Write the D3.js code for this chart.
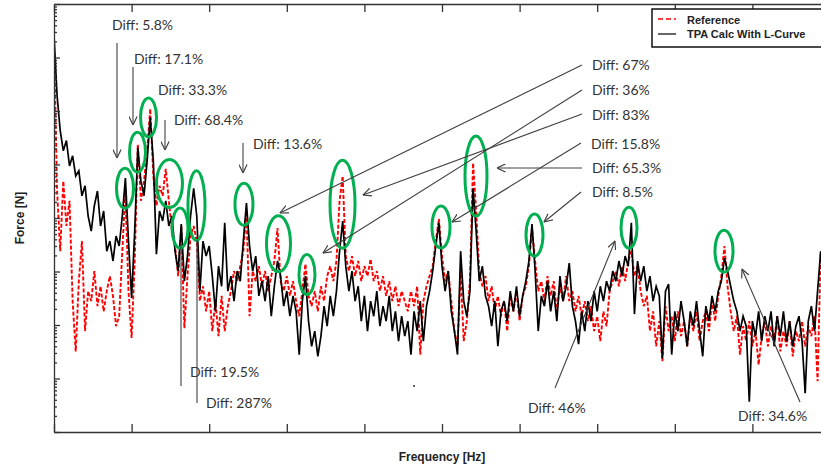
<!DOCTYPE html>
<html>
<head>
<meta charset="utf-8">
<script src="https://cdn.jsdelivr.net/npm/d3@7"></script>
<style>
  body { margin: 0; background: #fff; }
  svg { display: block; }
  .axis path, .axis line { stroke: #333; stroke-width: 1.3; }
</style>
</head>
<body>
<div id="chart"></div>
<script>
// spectrum bins: 4 Hz apart, starting at 0 Hz
var freqStep = 4;

// TPA calculation with L-curve regularisation [N]
var tpaForce = [
  2560, 193, 43, 18, 28, 9.4, 14.5, 6.1, 7.6, 2.6,
  4.0, 1.09, 0.57, 1.7, 3.2, 0.71, 1.35, 0.24, 0.37, 0.157,
  0.46, 0.30, 1.09, 5.6, 0.37, 0.032, 0.57, 20.5, 4.9, 2.6,
  11.7, 75, 11.7, 0.21, 1.35, 0.88, 2.1, 0.71, 1.09, 0.24,
  0.102, 0.77, 0.066, 0.194, 1.09, 3.6, 1.09, 0.043, 0.37, 0.194,
  0.30, 0.082, 0.018, 0.126, 0.053, 0.81, 0.043, 0.082, 0.028, 0.102,
  0.066, 0.37, 1.9, 0.30, 0.102, 0.194, 0.035, 0.066, 0.028, 0.082,
  0.0146, 0.053, 0.157, 0.082, 0.0225, 0.043, 0.0146, 0.035, 0.018, 0.0028,
  0.028, 0.082, 0.0118, 0.0040, 0.0077, 0.0026, 0.0062, 0.0225, 0.0095, 0.035,
  0.0146, 0.043, 0.24, 0.88, 0.126, 0.043, 0.102, 0.028, 0.053, 0.0118,
  0.035, 0.0077, 0.028, 0.0146, 0.043, 0.0095, 0.0225, 0.0118, 0.035, 0.0077,
  0.018, 0.0050, 0.0146, 0.0062, 0.0118, 0.0028, 0.018, 0.0077, 0.028, 0.0050,
  0.0225, 0.043, 0.102, 0.30, 0.81, 0.126, 0.043, 0.102, 0.018, 0.0077,
  0.0028, 0.24, 0.028, 0.0146, 0.043, 3.6, 0.57, 0.066, 0.126, 0.035,
  0.0225, 0.0095, 0.028, 0.0040, 0.018, 0.028, 0.0118, 0.043, 0.018, 0.053,
  0.0146, 0.035, 0.066, 0.157, 0.77, 0.102, 0.0077, 0.035, 0.0225, 0.066,
  0.018, 0.043, 0.0118, 0.082, 0.028, 0.053, 0.144, 0.0225, 0.0118, 0.0044,
  0.018, 0.0077, 0.028, 0.0118, 0.043, 0.018, 0.053, 0.028, 0.066, 0.043,
  0.102, 0.066, 0.157, 0.082, 0.194, 0.126, 0.81, 0.016, 0.157, 0.066,
  0.126, 0.043, 0.082, 0.028, 0.053, 0.035, 0.0024, 0.043, 0.058, 0.0028,
  0.018, 0.0077, 0.028, 0.0118, 0.0040, 0.018, 0.0095, 0.028, 0.0077, 0.0026,
  0.0225, 0.0118, 0.035, 0.018, 0.043, 0.066, 0.178, 0.102, 0.053, 0.028,
  0.018, 0.0077, 0.0146, 0.0095, 0.00037, 0.0118, 0.0062, 0.018, 0.0050, 0.0146,
  0.0077, 0.018, 0.0040, 0.0146, 0.0062, 0.018, 0.0050, 0.0118, 0.0040, 0.0095,
  0.0146, 0.0050, 0.00053, 0.0118, 0.0225, 0.0077, 0.043, 0.24
];

// measured reference force [N]
var refForce = [
  2060, 3.2, 0.24, 4.9, 0.71, 2.1, 0.028, 0.0032, 0.066, 0.37,
  0.0077, 0.043, 0.028, 0.102, 0.0225, 0.053, 0.018, 0.043, 0.082, 0.035,
  0.0095, 0.0146, 0.24, 3.2, 0.043, 0.0057, 0.157, 24, 2.1, 4.9,
  18, 110, 6.1, 1.7, 4.0, 2.6, 8.3, 2.1, 0.57, 0.30,
  0.082, 0.71, 0.0087, 0.082, 0.46, 0.71, 0.37, 0.028, 0.053, 0.018,
  0.043, 0.0077, 0.028, 0.0062, 0.035, 0.0077, 0.0225, 0.043, 0.102, 0.066,
  0.126, 0.24, 1.35, 0.0146, 0.102, 0.066, 0.126, 0.053, 0.102, 0.043,
  0.082, 0.157, 0.65, 0.066, 0.043, 0.082, 0.035, 0.066, 0.028, 0.0146,
  0.043, 0.138, 0.035, 0.0225, 0.043, 0.018, 0.053, 0.028, 0.082, 0.126,
  0.066, 0.157, 2.1, 6.1, 0.194, 0.102, 0.194, 0.082, 0.157, 0.066,
  0.126, 0.082, 0.171, 0.066, 0.102, 0.043, 0.082, 0.035, 0.066, 0.028,
  0.053, 0.0225, 0.043, 0.028, 0.018, 0.043, 0.0225, 0.053, 0.0028, 0.028,
  0.053, 0.082, 0.126, 0.37, 0.96, 0.194, 0.066, 0.102, 0.028, 0.0077,
  0.0040, 0.102, 0.0050, 0.0118, 0.066, 10.7, 1.35, 0.102, 0.053, 0.082,
  0.028, 0.053, 0.018, 0.035, 0.0146, 0.028, 0.0077, 0.035, 0.018, 0.043,
  0.0118, 0.035, 0.053, 0.126, 0.65, 0.157, 0.043, 0.066, 0.028, 0.082,
  0.035, 0.066, 0.018, 0.053, 0.028, 0.082, 0.028, 0.043, 0.018, 0.035,
  0.0146, 0.028, 0.0118, 0.0225, 0.0077, 0.0146, 0.0050, 0.018, 0.0095, 0.043,
  0.066, 0.102, 0.053, 0.126, 0.066, 0.157, 0.24, 0.082, 0.126, 0.043,
  0.0225, 0.035, 0.0077, 0.018, 0.0040, 0.0118, 0.0021, 0.0225, 0.0077, 0.0146,
  0.0050, 0.018, 0.0062, 0.0118, 0.0040, 0.0146, 0.0077, 0.018, 0.0050, 0.0118,
  0.018, 0.0077, 0.028, 0.0118, 0.035, 0.082, 0.30, 0.053, 0.018, 0.0077,
  0.0146, 0.0028, 0.0095, 0.0050, 0.0118, 0.0040, 0.0077, 0.0018, 0.0062, 0.0118,
  0.0040, 0.0095, 0.0050, 0.0146, 0.0032, 0.0077, 0.0040, 0.0118, 0.0026, 0.0077,
  0.0050, 0.0118, 0.0040, 0.0095, 0.0062, 0.0146, 0.00089, 0.24
];

var xTicks = [0, 100, 200, 300, 400, 500, 600, 700, 800, 900, 1000];
var seriesNames = ["Reference", "TPA Calc With L-Curve"];

// highlighted peaks: label, ellipse centre (Hz, N)
var diffLabels = ["Diff: 5.8%", "Diff: 17.1%", "Diff: 33.3%", "Diff: 68.4%", "Diff: 19.5%",
                  "Diff: 287%", "Diff: 13.6%", "Diff: 67%", "Diff: 36%", "Diff: 83%",
                  "Diff: 15.8%", "Diff: 65.3%", "Diff: 8.5%", "Diff: 46%", "Diff: 34.6%"];
var peakFreq  = [91.5, 107.6, 121.8, 148.8, 162.4, 183.6, 244.8, 289.3, 326, 371.8, 498.7, 543.8, 619.2, 741, 863.4];
var peakForce = [3.6, 17, 76, 4.4, 0.65, 1.7, 1.8, 0.33, 0.088, 1.8, 0.68, 6.1, 0.48, 0.66, 0.24];

// layout of the annotations (pixels): ellipse radii, label spot, leader line, arrow head?
var annoLayout = [
  {rx: 8.5, ry: 20, tx: 112, ty: 30,  line: [117, 43, 117, 158], head: true},
  {rx: 8,   ry: 20, tx: 134, ty: 64,  line: [133, 67, 133, 125], head: true},
  {rx: 8,   ry: 19.5, tx: 158, ty: 95, line: null},
  {rx: 13,  ry: 24, tx: 174, ty: 125, line: [165, 120, 165, 150], head: true},
  {rx: 8,   ry: 20, tx: 190, ty: 377, line: [181, 247, 181, 386], head: false},
  {rx: 8.5, ry: 35, tx: 206, ty: 408, line: [197, 240, 197, 403], head: false},
  {rx: 9,   ry: 21, tx: 253, ty: 149, line: [243, 143, 243, 173], head: true},
  {rx: 12,  ry: 28, tx: 592, ty: 70,  line: [582, 65, 280, 213], head: true},
  {rx: 8,   ry: 20, tx: 592, ty: 95,  line: [582, 90, 323, 253], head: true},
  {rx: 12.5, ry: 44, tx: 592, ty: 120, line: [582, 114, 363, 195], head: true},
  {rx: 9,   ry: 21, tx: 591, ty: 149, line: [581, 143, 452, 222], head: true},
  {rx: 11,  ry: 40, tx: 592, ty: 173, line: [582, 168, 497, 168], head: true},
  {rx: 8.5, ry: 21, tx: 592, ty: 197, line: [581, 192, 544, 222], head: true},
  {rx: 8,   ry: 20.5, tx: 528, ty: 413, line: [555, 388, 615, 241], head: true},
  {rx: 9,   ry: 21, tx: 738, ty: 421, line: [800, 402, 742, 269], head: true}
];

var svgWidth = 821, svgHeight = 468;
var margin = {top: 4, left: 54};
var plotW = 776, plotH = 428;

var svg = d3.select("#chart").append("svg")
  .attr("width", svgWidth)
  .attr("height", svgHeight);

var defs = svg.append("defs");
defs.append("clipPath").attr("id", "plotClip")
  .append("rect").attr("width", plotW).attr("height", plotH);
defs.append("marker")
  .attr("id", "arrowHead")
  .attr("viewBox", "0 0 10 10")
  .attr("refX", 9.5).attr("refY", 5)
  .attr("markerWidth", 9).attr("markerHeight", 9)
  .attr("markerUnits", "userSpaceOnUse")
  .attr("orient", "auto")
  .append("path")
  .attr("d", "M0,0.5 L9.5,5 L0,9.5")
  .attr("fill", "none").attr("stroke", "#404040").attr("stroke-width", 1.3);

var chartGroup = svg.append("g")
  .attr("transform", `translate(${margin.left}, ${margin.top})`);

var xScale = d3.scaleLinear().domain([0, 1000]).range([0, plotW]);
var yScale = d3.scaleLog().domain([1e-4, 1e4]).range([plotH, 0]);

// spectra
var refData = refForce.map((v, i) => [i * freqStep, v]);
var tpaData = tpaForce.map((v, i) => [i * freqStep, v]);

var line = d3.line()
  .x(d => xScale(d[0]))
  .y(d => yScale(d[1]));

var curves = chartGroup.append("g").attr("clip-path", "url(#plotClip)");
curves.append("path")
  .datum(refData)
  .attr("d", line)
  .attr("fill", "none")
  .attr("stroke", "#ff0000")
  .attr("stroke-width", 1.9)
  .attr("stroke-dasharray", "4,2");
curves.append("path")
  .datum(tpaData)
  .attr("d", line)
  .attr("fill", "none")
  .attr("stroke", "#000")
  .attr("stroke-width", 1.7);

// frame with inward ticks
var decades = yScale.ticks().filter(v => Math.abs(Math.log10(v) - Math.round(Math.log10(v))) < 1e-9);
var minors = yScale.ticks().filter(v => decades.indexOf(v) < 0);

chartGroup.append("g").attr("class", "axis")
  .attr("transform", `translate(0, ${plotH})`)
  .call(d3.axisBottom(xScale).tickValues(xTicks).tickSizeInner(-8).tickSizeOuter(0).tickFormat(""));
chartGroup.append("g").attr("class", "axis")
  .call(d3.axisTop(xScale).tickValues(xTicks).tickSizeInner(-8).tickSizeOuter(0).tickFormat(""));

chartGroup.append("g").attr("class", "axis")
  .call(d3.axisLeft(yScale).tickValues(decades).tickSizeInner(-6).tickSizeOuter(0).tickFormat(""));
chartGroup.append("g").attr("class", "axis")
  .call(d3.axisLeft(yScale).tickValues(minors).tickSizeInner(-3).tickSizeOuter(0).tickFormat(""))
  .select(".domain").remove();
chartGroup.append("g").attr("class", "axis")
  .attr("transform", `translate(${plotW}, 0)`)
  .call(d3.axisRight(yScale).tickValues(decades).tickSizeInner(-6).tickSizeOuter(0).tickFormat(""));
chartGroup.append("g").attr("class", "axis")
  .attr("transform", `translate(${plotW}, 0)`)
  .call(d3.axisRight(yScale).tickValues(minors).tickSizeInner(-3).tickSizeOuter(0).tickFormat(""))
  .select(".domain").remove();

// axis titles
svg.append("text")
  .attr("transform", `translate(${margin.left + plotW * 0.5}, 461)`)
  .attr("text-anchor", "middle")
  .attr("font-family", "Liberation Sans, Arial, sans-serif")
  .attr("font-weight", "bold")
  .attr("font-size", "12px")
  .attr("fill", "#222")
  .text("Frequency [Hz]");
svg.append("text")
  .attr("transform", `translate(24, ${margin.top + plotH * 0.5}) rotate(-90)`)
  .attr("text-anchor", "middle")
  .attr("font-family", "Liberation Sans, Arial, sans-serif")
  .attr("font-weight", "bold")
  .attr("font-size", "12px")
  .attr("fill", "#222")
  .text("Force [N]");

// green ellipses round the compared peaks
chartGroup.selectAll(".peakRing")
  .data(annoLayout)
  .enter().append("ellipse")
  .attr("class", "peakRing")
  .attr("cx", (d, i) => xScale(peakFreq[i]))
  .attr("cy", (d, i) => yScale(peakForce[i]))
  .attr("rx", d => d.rx)
  .attr("ry", d => d.ry)
  .attr("fill", "none")
  .attr("stroke", "#00b050")
  .attr("stroke-width", 3);

// leader lines and labels
var notes = svg.append("g");
annoLayout.forEach(function(d, i) {
  if (d.line) {
    var l = notes.append("line")
      .attr("x1", d.line[0]).attr("y1", d.line[1])
      .attr("x2", d.line[2]).attr("y2", d.line[3])
      .attr("stroke", "#404040")
      .attr("stroke-width", 1.1);
    if (d.head) l.attr("marker-end", "url(#arrowHead)");
  }
  notes.append("text")
    .attr("x", d.tx).attr("y", d.ty)
    .attr("font-family", "Lato, 'Open Sans', sans-serif")
    .attr("font-size", "14px")
    .attr("fill", "#333")
    .text(diffLabels[i]);
});

// stray dot in the original
svg.append("circle").attr("cx", 414).attr("cy", 386).attr("r", 1).attr("fill", "#333");

// legend
var legend = svg.append("g").attr("transform", "translate(652, 9)");
legend.append("rect")
  .attr("width", 200).attr("height", 38)
  .attr("fill", "#fff").attr("stroke", "#111").attr("stroke-width", 1.5);
legend.append("line")
  .attr("x1", 6).attr("x2", 24).attr("y1", 10).attr("y2", 10)
  .attr("stroke", "#ff0000").attr("stroke-width", 1.5).attr("stroke-dasharray", "5,3");
legend.append("line")
  .attr("x1", 6).attr("x2", 24).attr("y1", 25).attr("y2", 25)
  .attr("stroke", "#333").attr("stroke-width", 1.5);
legend.selectAll(".legText")
  .data(seriesNames)
  .enter().append("text")
  .attr("class", "legText")
  .attr("x", 35)
  .attr("y", (d, i) => 15 + i * 14)
  .attr("font-family", "Liberation Sans, Arial, sans-serif")
  .attr("font-weight", "bold")
  .attr("font-size", "11px")
  .attr("fill", "#222")
  .text(d => d);
</script>
</body>
</html>
